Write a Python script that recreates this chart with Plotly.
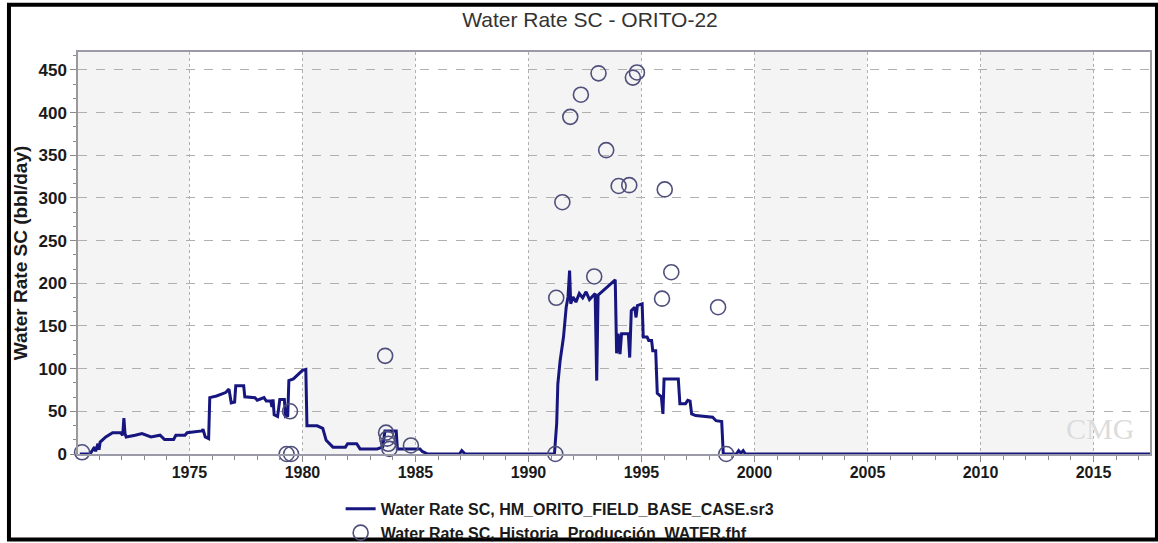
import plotly.graph_objects as go

# Simulated water rate (HM_ORITO_FIELD_BASE_CASE.sr3)
sim_year = [1970.15, 1970.6, 1970.8, 1970.85, 1970.95, 1971.0, 1971.05, 1971.3, 1971.6, 1971.95,
            1972.05, 1972.1, 1972.15, 1972.2, 1972.6, 1972.9, 1973.3, 1973.7, 1973.9, 1974.3,
            1974.4, 1974.8, 1974.9, 1975.3, 1975.55, 1975.6, 1975.7, 1975.85, 1975.9, 1976.2,
            1976.6, 1976.75, 1976.85, 1977.0, 1977.05, 1977.4, 1977.45, 1977.9, 1978.0, 1978.3,
            1978.4, 1978.6, 1978.65, 1978.7, 1978.75, 1978.9, 1979.0, 1979.2, 1979.25, 1979.35,
            1979.4, 1979.6, 1980.0, 1980.15, 1980.2, 1980.65, 1980.9, 1981.05, 1981.35, 1981.9,
            1982.0, 1982.4, 1982.55, 1983.3, 1983.55, 1983.65, 1984.15, 1984.2, 1985.2, 1985.3,
            1985.55, 1986.95, 1987.05, 1987.2, 1991.15, 1991.25, 1991.3, 1991.4, 1991.55, 1991.67,
            1991.75, 1991.82, 1991.87, 1991.97, 1992.1, 1992.25, 1992.4, 1992.55, 1992.7, 1992.95,
            1993.02, 1993.08, 1993.45, 1993.84, 1993.9, 1993.97, 1994.05, 1994.12, 1994.42, 1994.48,
            1994.55, 1994.7, 1994.76, 1994.82, 1995.03, 1995.08, 1995.25, 1995.32, 1995.45, 1995.5,
            1995.63, 1995.7, 1995.88, 1995.95, 1996.0, 1996.63, 1996.7, 1996.95, 1997.05, 1997.15,
            1997.22, 1997.4, 1998.15, 1998.3, 1998.55, 1998.62, 1999.2, 1999.3, 1999.4, 1999.5,
            1999.6, 2017.5]
sim_rate = [0, 0, 8, 3, 12, 5, 14, 20, 25, 25,
            22, 42, 24, 20, 22, 24, 20, 22, 17, 17,
            22, 22, 25, 26, 27, 29, 20, 18, 66, 68,
            72, 76, 60, 61, 80, 80, 67, 66, 63, 66,
            62, 62, 55, 64, 46, 44, 64, 64, 44, 45,
            86, 88, 98, 99, 33, 33, 30, 16, 8, 8,
            12, 12, 6, 6, 8, 27, 27, 6, 6, 3,
            0, 0, 4, 0, 0, 36, 82, 109, 137, 172,
            184, 215, 176, 184, 178, 188, 183, 190, 181, 188,
            86, 186, 195, 204, 118, 141, 117, 141, 141, 113,
            168, 172, 160, 174, 176, 137, 137, 133, 133, 121,
            121, 71, 67, 47, 88, 88, 59, 59, 63, 62,
            47, 45, 43, 39, 38, 0, 0, 4, 1, 4,
            0, 0]

# Historical water rate (Historia_Producción_WATER.fhf)
hist_year = [1970.25, 1979.3, 1979.5, 1979.45, 1983.66, 1983.7, 1983.75, 1983.8, 1983.85, 1984.8,
             1991.19, 1991.23, 1991.5, 1991.85, 1992.32, 1992.91, 1993.1, 1993.44, 1993.99, 1994.46,
             1994.62, 1994.8, 1995.91, 1996.03, 1996.32, 1998.39, 1998.75]
hist_rate = [2, 0, 0, 50, 115, 25, 18, 12, 6, 10,
             0, 183, 295, 395, 421, 208, 446, 356, 314, 315,
             441, 447, 182, 310, 213, 172, 0]

x_ticks = [1975, 1980, 1985, 1990, 1995, 2000, 2005, 2010, 2015]
y_ticks = [0, 50, 100, 150, 200, 250, 300, 350, 400, 450]
band_starts = [1970, 1980, 1990, 2000, 2010]

X_RANGE = [1970.07, 2017.5]
Y_RANGE = [0, 471]

fig = go.Figure()

fig.add_trace(go.Scatter(
    x=sim_year, y=sim_rate, mode="lines",
    name="Water Rate SC, HM_ORITO_FIELD_BASE_CASE.sr3",
    line=dict(color="#16167e", width=3),
))
fig.add_trace(go.Scatter(
    x=hist_year, y=hist_rate, mode="markers",
    name="Water Rate SC, Historia_Producción_WATER.fhf",
    marker=dict(symbol="circle-open", size=15, color="#4f4f7c", line=dict(width=1.6)),
    cliponaxis=False,
))

shapes = []
for b in band_starts:
    shapes.append(dict(type="rect", xref="x", yref="paper", x0=max(b, X_RANGE[0]), x1=b + 5,
                       y0=0, y1=1, fillcolor="#f4f4f4", line=dict(width=0), layer="below"))
# outer black frame
shapes.append(dict(type="rect", xref="paper", yref="paper",
                   x0=-0.0644, x1=1.0065, y0=-0.2124, y1=1.1175,
                   line=dict(color="black", width=4), fillcolor="rgba(0,0,0,0)", layer="above"))

fig.update_layout(
    width=1158, height=543,
    margin=dict(l=78, r=8, t=52, b=89, autoexpand=False),
    paper_bgcolor="white", plot_bgcolor="white",
    font=dict(family="Arial, Liberation Sans, sans-serif", color="#1a1a1a"),
    title=dict(text="Water Rate SC - ORITO-22", x=0.4776, xref="paper", xanchor="center",
               y=0.963, yanchor="middle",
               font=dict(size=21, color="#333333", family="Arial, Liberation Sans, sans-serif")),
    shapes=shapes,
    showlegend=True,
    legend=dict(orientation="v", x=0.245, xanchor="left", yref="container", y=0.094, yanchor="top",
                font=dict(size=16, color="#1a1a1a", weight="bold"),
                bgcolor="rgba(0,0,0,0)", tracegroupgap=0, itemwidth=30),
    annotations=[dict(text="CMG", xref="x", yref="y", x=2015.3, y=30, showarrow=False,
                      font=dict(size=30, color="#dcdcdc", family="Liberation Serif, serif"))],
)

fig.update_xaxes(
    range=X_RANGE, tickvals=x_ticks, ticktext=[str(t) for t in x_ticks],
    showgrid=True, gridcolor="#b0b0b0", griddash="dot", gridwidth=1,
    showline=True, linecolor="#9a9aa8", linewidth=1.5, mirror=True,
    ticks="outside", ticklen=6, tickcolor="#8a8a8a", ticklabelstandoff=-3,
    minor=dict(dtick=1, tick0=1970, ticks="outside", ticklen=4, tickcolor="#8a8a8a", showgrid=False),
    tickfont=dict(size=16, color="#1a1a1a", weight="bold"),
    zeroline=False, automargin=False,
)
fig.update_yaxes(
    range=Y_RANGE, tickvals=y_ticks, ticktext=[str(t) for t in y_ticks],
    showgrid=True, gridcolor="#b0b0b0", griddash="dash", gridwidth=1,
    showline=True, linecolor="#9a9a9a", linewidth=1.5, mirror=True,
    ticks="outside", ticklen=6, tickcolor="#8a8a8a",
    minor=dict(dtick=50 / 3, tick0=0, ticks="outside", ticklen=3, tickcolor="#8a8a8a", showgrid=False),
    tickfont=dict(size=17, color="#1a1a1a", weight="bold"),
    title=dict(text="Water Rate SC (bbl/day)", standoff=6,
               font=dict(size=19, color="#1a1a1a", weight="bold")),
    zeroline=False, automargin=False,
)

fig.write_html("out.html")
